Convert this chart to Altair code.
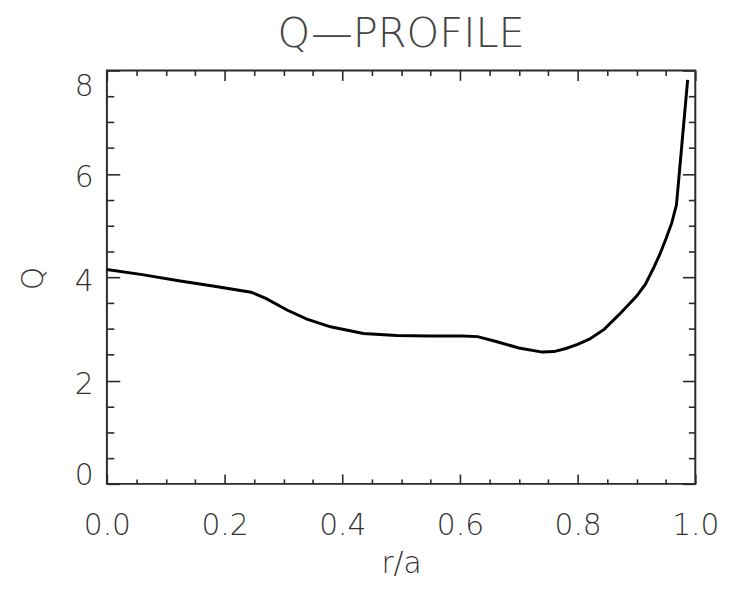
import altair as alt
import pandas as pd

# ---- data ----
r_over_a = [0.0, 0.06, 0.122, 0.18, 0.245, 0.27, 0.307, 0.34, 0.38, 0.436,
            0.492, 0.548, 0.604, 0.63, 0.66, 0.70, 0.74, 0.76, 0.78, 0.80,
            0.82, 0.845, 0.87, 0.90, 0.915, 0.93, 0.94, 0.95, 0.96, 0.968,
            0.987]
q_values = [4.15, 4.05, 3.93, 3.83, 3.71, 3.59, 3.36, 3.19, 3.04, 2.91,
            2.87, 2.86, 2.86, 2.85, 2.76, 2.63, 2.55, 2.56, 2.62, 2.70,
            2.80, 2.99, 3.27, 3.63, 3.86, 4.20, 4.45, 4.74, 5.05, 5.40,
            7.82]

x_major = [0.0, 0.2, 0.4, 0.6, 0.8, 1.0]
x_minor = [0.05, 0.10, 0.15, 0.25, 0.30, 0.35, 0.45, 0.50, 0.55,
           0.65, 0.70, 0.75, 0.85, 0.90, 0.95]
y_major = [0, 2, 4, 6, 8]
y_minor = [0.5, 1.0, 1.5, 2.5, 3.0, 3.5, 4.5, 5.0, 5.5, 6.5, 7.0, 7.5]

df = pd.DataFrame({"r": r_over_a, "q": q_values})

FONT = "DejaVu Sans"
TXT = "#333333"
TICK = "#2a2a2a"

xscale = alt.Scale(domain=[0, 1], nice=False, zero=False)
yscale = alt.Scale(domain=[0, 8], nice=False, zero=False)


def xaxis(orient, values, size, labels=False, title=None, **kw):
    return alt.Axis(orient=orient, values=values, offset=-size, tickSize=size,
                    domain=False, grid=False, labels=labels, title=title,
                    tickColor=TICK, tickWidth=1.6, labelFlush=False, **kw)


def yaxis(orient, values, size, labels=False, title=None, **kw):
    return alt.Axis(orient=orient, values=values, offset=-size, tickSize=size,
                    domain=False, grid=False, labels=labels, title=title,
                    tickColor=TICK, tickWidth=1.6, **kw)


base = alt.Chart(df)

main = base.mark_line(color="black", strokeWidth=3).encode(
    x=alt.X("r:Q", scale=xscale, axis=xaxis(
        "bottom", x_major, 10, labels=True, title="r/a", format=".1f",
        labelPadding=27, labelFont=FONT, labelFontSize=30, labelFontWeight=200,
        labelColor=TXT, labelOverlap=False,
        titleFont=FONT, titleFontSize=30, titleFontWeight=200, titleColor=TXT,
        titleY=100, titleBaseline="alphabetic")),
    y=alt.Y("q:Q", scale=yscale, axis=yaxis(
        "left", y_major, 13, labels=True, title="Q", format="d",
        labelPadding=14, labelFlush=True, labelFlushOffset=3, labelOffset=4,
        labelFont=FONT, labelFontSize=30, labelFontWeight=200, labelColor=TXT,
        labelOverlap=False,
        titleFont=FONT, titleFontSize=30, titleFontWeight=200, titleColor=TXT,
        titleX=-78, titleY=210, titleBaseline="alphabetic", titleAlign="center",
        titleAngle=270)),
)

minor_bl = base.mark_line(strokeOpacity=0).encode(
    x=alt.X("r:Q", scale=xscale, axis=xaxis("bottom", x_minor, 5)),
    y=alt.Y("q:Q", scale=yscale, axis=yaxis("left", y_minor, 7)),
)

major_tr = base.mark_line(strokeOpacity=0).encode(
    x=alt.X("r:Q", scale=xscale, axis=xaxis("top", x_major, 10)),
    y=alt.Y("q:Q", scale=yscale, axis=yaxis("right", y_major, 13)),
)

minor_tr = base.mark_line(strokeOpacity=0).encode(
    x=alt.X("r:Q", scale=xscale, axis=xaxis("top", x_minor, 5)),
    y=alt.Y("q:Q", scale=yscale, axis=yaxis("right", y_minor, 7)),
)

chart = (
    alt.layer(main, minor_bl, major_tr, minor_tr)
    .resolve_axis(x="independent", y="independent")
    .properties(
        width=595,
        height=418,
        background="white",
        padding={"left": 100, "top": 60, "right": 27, "bottom": 93},
        autosize=alt.AutoSizeParams(type="none"),
        title=alt.TitleParams(
            "Q\u2014PROFILE", font=FONT, fontSize=42, fontWeight=200,
            color="#444444", anchor="middle", offset=9, baseline="bottom",
            dy=37),
    )
    .configure_view(stroke=TICK, strokeWidth=2)
)

chart.save("out.html", embed_options={"renderer": "svg", "actions": False})
